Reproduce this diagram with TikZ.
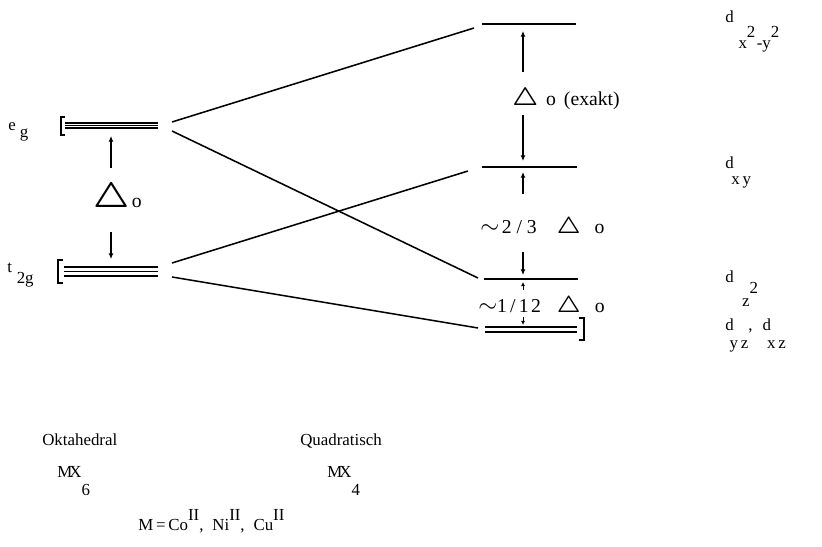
\documentclass[tikz,border=0pt]{standalone}
\usepackage{graphicx}
\usepackage{fontspec}
\setmainfont{Liberation Serif}
\usetikzlibrary{arrows.meta}

\newcommand{\dreieck}[1]{\scalebox{#1}{\boldmath$\triangle$}}

\begin{document}
\begin{tikzpicture}[x=0.025cm,y=-0.025cm,
  niveau/.style={line width=1.3pt},
  duenn/.style={line width=0.4pt},
  korrel/.style={line width=1.1pt},
  klammer/.style={line width=1pt},
  pfeil/.style={line width=0.9pt,-{Latex[length=4pt,width=3.5pt]}},
  kpfeil/.style={line width=0.6pt,-{Latex[length=3pt,width=3pt]}},
  txt/.style={anchor=base west,inner sep=0pt,font=\fontsize{12}{14}\selectfont},
  gtxt/.style={anchor=base west,inner sep=0pt,font=\fontsize{14}{16}\selectfont}]
\useasboundingbox (0,0) rectangle (822,546);

% Niveaus oktaedrisch
\draw[niveau] (65,123) -- (158,123) (65,128) -- (158,128);
\draw[duenn] (65,125.5) -- (158,125.5);
\draw[niveau] (64,267) -- (158,267) (64,271.5) -- (158,271.5) (64,276) -- (158,276);
\draw[klammer] (65,117) -- (61,117) -- (61,135) -- (65,135);
\draw[klammer] (63,260) -- (58,260) -- (58,283) -- (63,283);

% Niveaus quadratisch
\draw[niveau] (482,24) -- (576,24);
\draw[niveau] (482,167) -- (577,167);
\draw[niveau] (484,279) -- (578,279);
\draw[niveau] (485,327) -- (577,327) (485,332) -- (577,332);
\draw[klammer] (579,318) -- (584,318) -- (584,340) -- (579,340);

% Korrelationslinien
\coordinate (egO) at (172,122);
\coordinate (egU) at (172,131);
\coordinate (tgO) at (172,263);
\coordinate (tgU) at (172,277);
\coordinate (dxx) at (474,28);
\coordinate (dxy) at (468,171);
\coordinate (dzz) at (478,278);
\coordinate (dyz) at (478,328);
\draw[korrel] (egO) -- (dxx);
\draw[korrel] (egU) -- (dzz);
\draw[korrel] (tgO) -- (dxy);
\draw[korrel] (tgU) -- (dyz);

% Pfeile
\draw[pfeil] (111,168) -- (111,136);
\draw[pfeil] (111,232) -- (111,259);
\draw[pfeil] (523,72) -- (523,31);
\draw[pfeil] (523,115) -- (523,161);
\draw[pfeil] (523,194) -- (523,172);
\draw[pfeil] (523,252) -- (523,275);
\draw[kpfeil] (523,290) -- (523,282);
\draw[kpfeil] (523,317) -- (523,325);

% Beschriftung links
\node[txt] (eg) at (8,130) {e\kern0.1cm\raisebox{-0.175cm}{g}};
\node[txt] (tg) at (7,272) {t\kern0.12cm\raisebox{-0.275cm}{2g}};
\node[gtxt] (do) at (93,207) {\dreieck{1.75}\kern0.06cm o};

% Beschriftung Mitte
\node[gtxt] (dox) at (512,105) {\dreieck{1.25}\kern0.2cm o\kern0.2cm(exakt)};
\node[gtxt] (dzd) at (480,233) {{\LARGE$\sim$}\kern0.07cm 2\kern0.12cm/\kern0.12cm3\kern0.5cm\dreieck{1.15}\kern0.35cm o};
\node[gtxt] (dzw) at (478,312) {{\LARGE$\sim$}1\kern0.08cm/\kern0.08cm1\kern0.06cm2\kern0.4cm\dreieck{1.15}\kern0.35cm o};

% Orbitale rechts
\node[txt] (dA) at (725,23) {d\kern0.12cm\raisebox{-0.625cm}{x\raisebox{0.275cm}{2}\kern1pt-y\raisebox{0.275cm}{2}}};
\node[txt] (dB) at (725,168) {d\kern-0.06cm\raisebox{-0.4cm}{x\kern2pt y}};
\node[txt] (dC) at (725,282) {d\kern0.21cm\raisebox{-0.6cm}{z\raisebox{0.325cm}{2}}};
\node[txt] (dD) at (725,330) {d\kern-0.1cm\raisebox{-0.45cm}{y\kern2pt z},\kern0.25cm d\kern-0.1cm\raisebox{-0.45cm}{x\kern2pt z}};

% unten
\node[txt] (okt) at (42,445) {Oktahedral};
\node[txt] (mx6) at (57,477) {M\kern-2pt X\raisebox{-0.45cm}{6}};
\node[txt] (qua) at (300,445) {Quadratisch};
\node[txt] (mx4) at (327,477) {M\kern-2pt X\raisebox{-0.45cm}{4}};
\node[txt] (metall) at (138,530) {M\kern2pt=\kern2pt Co\raisebox{0.25cm}{II},\kern0.22cm Ni\raisebox{0.25cm}{II},\kern0.22cm Cu\raisebox{0.25cm}{II}};
\end{tikzpicture}
\end{document}
